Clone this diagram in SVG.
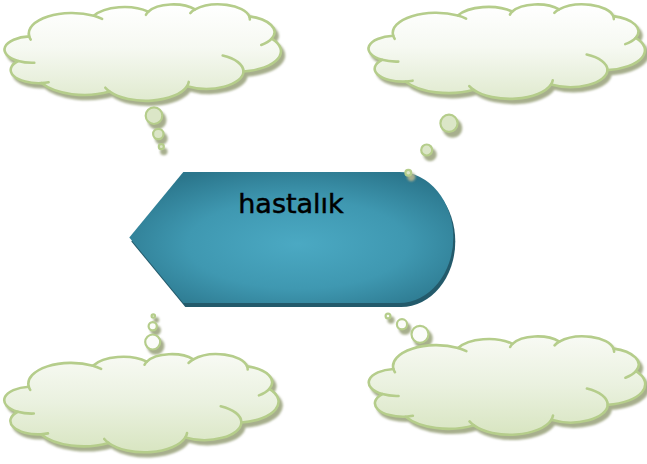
<svg xmlns="http://www.w3.org/2000/svg" xmlns:xlink="http://www.w3.org/1999/xlink" width="647" height="464" viewBox="0 0 647 464">
<defs>
<style>
.cl{stroke:#b5cd8b;stroke-width:2.6;stroke-linejoin:round}
.in{fill:none;stroke:#b5cd8b;stroke-width:2.6;stroke-linecap:round}
.sh{fill:#a7af8d;stroke:#a7af8d;stroke-width:2.5}
.bt{fill:#dbe6c7;stroke:#b5cd8b;stroke-width:2.2}
.bb{fill:#fbfcf9;stroke:#b5cd8b;stroke-width:2.2}
.lbl{font-family:"DejaVu Sans",sans-serif;font-size:27px;fill:#000;stroke:#000;stroke-width:0.5}
</style>
<linearGradient id="gTop" x1="0" y1="0" x2="0" y2="1"><stop offset="0" stop-color="#ffffff"/><stop offset="0.45" stop-color="#f6f9f2"/><stop offset="1" stop-color="#e0eacf"/></linearGradient>
<linearGradient id="gBot" x1="0" y1="0" x2="0" y2="1"><stop offset="0" stop-color="#f8faf4"/><stop offset="0.5" stop-color="#eaf1df"/><stop offset="1" stop-color="#d8e5c1"/></linearGradient>
<radialGradient id="gMain" cx="0.52" cy="0.55" r="0.62"><stop offset="0" stop-color="#4ba9c3"/><stop offset="0.55" stop-color="#3f98b1"/><stop offset="1" stop-color="#2b768c"/></radialGradient>
<filter id="soft" x="-10%" y="-10%" width="120%" height="130%"><feGaussianBlur stdDeviation="1"/></filter>
<path id="cloud" vector-effect="non-scaling-stroke" d="M1950,7185 A3376.5,4595 0 0 1 7005,2580 A2666.5,3633.5 0 0 1 11250,1665 A2182.5,2972.5 0 0 1 14910,1170 A2428.5,3297.5 0 0 1 19140,2715 A2666.5,3636.5 0 0 1 20895,7665 A3387.5,4586.5 0 0 1 18690,15045 A2892.5,3933.5 0 0 1 14280,18330 A3376,4607.5 0 0 1 8235,19545 A3860,5271.5 0 0 1 2910,17640 A2180,2959 0 0 1 1080,12690 A2176,2972.5 0 0 1 1950,7185 Z"/>
<path id="cloudIn" vector-effect="non-scaling-stroke" d="M2346.5,13088.5 A2176,2972.5 0 0 1 1080,12690 M3464,17449.5 A2180,2959 0 0 1 2910,17640 M8235,19545 A3376,4607.5 0 0 1 7895.6,18680.5 M14413.5,17375.5 A3376,4607.5 0 0 1 14280,18330 M17064.5,11477 A2892.5,3933.5 0 0 1 18690,15045 M20895,7665 A2666.5,3636.5 0 0 1 20075,9100 M19140,2715 A2428.5,3297.5 0 0 1 19187,3390 M14539,1976 A2428.5,3297.5 0 0 1 14910,1170 M11070.5,2360 A2182.5,2972.5 0 0 1 11250,1665 M7005,2580 A3376.5,4595 0 0 1 7644,3275 M2063.5,7894.5 A3376.5,4595 0 0 1 1950,7185"/>
</defs>

<g id="main-node">
  <path fill="#235a6b" d="M131.3,241.5 L185.3,176 L401.3,176 A54,65.5 0 0 1 401.3,307 L185.3,307 Z"/>
  <path fill="url(#gMain)" d="M129.3,237.5 L183.3,172 L399.3,172 A54,65.5 0 0 1 399.3,303 L183.3,303 Z"/>
  <text class="lbl" x="291" y="213" text-anchor="middle">hastalık</text>
</g>

<g id="cloud-top-left">
  <g filter="url(#soft)">
    <use xlink:href="#cloud" class="sh" transform="translate(7.25,8.25) scale(0.0128,0.00447)"/>
    <circle class="sh" cx="157" cy="120" r="8.3"/>
    <circle class="sh" cx="161.3" cy="138.5" r="5.2"/>
    <circle class="sh" cx="163.8" cy="151.5" r="2.5"/>
  </g>
  <use xlink:href="#cloud" class="cl" fill="url(#gTop)" transform="translate(4.25,4.25) scale(0.0128,0.00447)"/>
  <use xlink:href="#cloudIn" class="in" transform="translate(4.25,4.25) scale(0.0128,0.00447)"/>
  <circle class="bt" cx="154" cy="115.7" r="8.3"/>
  <circle class="bt" cx="158.3" cy="134" r="5.2"/>
  <circle class="bt" cx="161.3" cy="146.7" r="2.5"/>
</g>

<g id="cloud-top-right">
  <g filter="url(#soft)">
    <use xlink:href="#cloud" class="sh" transform="translate(371.25,8.25) scale(0.0128,0.00438)"/>
    <circle class="sh" cx="452.5" cy="128" r="8.6"/>
    <circle class="sh" cx="430" cy="154.5" r="5.5"/>
    <circle class="sh" cx="411.3" cy="177" r="2.9"/>
  </g>
  <use xlink:href="#cloud" class="cl" fill="url(#gTop)" transform="translate(368.25,4.25) scale(0.0128,0.00438)"/>
  <use xlink:href="#cloudIn" class="in" transform="translate(368.25,4.25) scale(0.0128,0.00438)"/>
  <circle class="bt" cx="449" cy="123.3" r="8.6"/>
  <circle class="bt" cx="426.7" cy="150" r="5.5"/>
  <circle class="bt" cx="408.3" cy="172.7" r="2.9"/>
</g>

<g id="cloud-bottom-left">
  <g filter="url(#soft)">
    <use xlink:href="#cloud" class="sh" transform="translate(7,358) scale(0.0127,0.00455)"/>
    <circle class="sh" cx="155.7" cy="346" r="7.5"/>
    <circle class="sh" cx="155.7" cy="330.3" r="4.1"/>
    <circle class="sh" cx="156.3" cy="320" r="1.7"/>
  </g>
  <use xlink:href="#cloud" class="cl" fill="url(#gBot)" transform="translate(4,354) scale(0.0127,0.00455)"/>
  <use xlink:href="#cloudIn" class="in" transform="translate(4,354) scale(0.0127,0.00455)"/>
  <circle class="bb" cx="152.7" cy="342" r="7.5"/>
  <circle class="bb" cx="152.7" cy="326.3" r="4.1"/>
  <circle class="bb" cx="153.3" cy="316" r="1.7"/>
</g>

<g id="cloud-bottom-right">
  <g filter="url(#soft)">
    <use xlink:href="#cloud" class="sh" transform="translate(371.5,340.25) scale(0.0128,0.00456)"/>
    <circle class="sh" cx="423" cy="338.5" r="8.5"/>
    <circle class="sh" cx="405" cy="328.5" r="5.1"/>
    <circle class="sh" cx="391" cy="320" r="2.4"/>
  </g>
  <use xlink:href="#cloud" class="cl" fill="url(#gBot)" transform="translate(368.5,336.25) scale(0.0128,0.00456)"/>
  <use xlink:href="#cloudIn" class="in" transform="translate(368.5,336.25) scale(0.0128,0.00456)"/>
  <circle class="bb" cx="420" cy="334.3" r="8.5"/>
  <circle class="bb" cx="402" cy="324.3" r="5.1"/>
  <circle class="bb" cx="388" cy="316" r="2.4"/>
</g>

<g id="connectors"></g>
</svg>
